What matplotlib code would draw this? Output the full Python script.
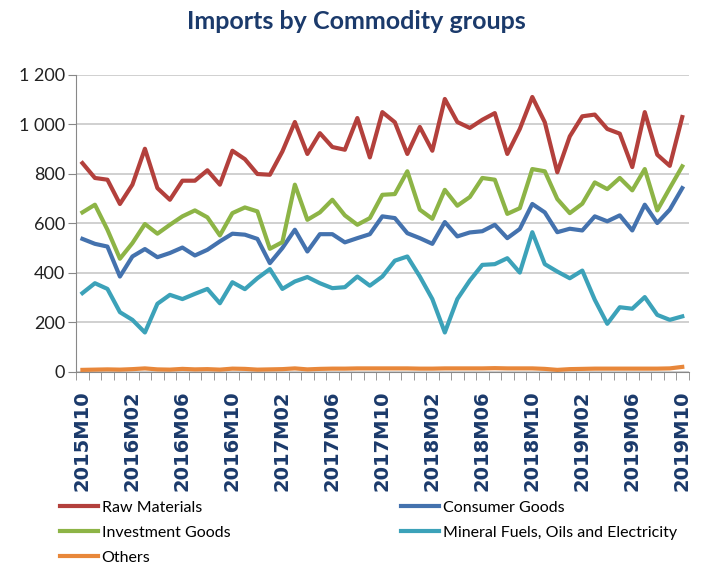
import matplotlib.pyplot as plt
import numpy as np

months = []
for y in range(2015, 2020):
    for m in range(1, 13):
        if (y == 2015 and m < 10) or (y == 2019 and m > 10):
            continue
        months.append(f"{y}M{m:02d}")

raw_materials = [843, 783, 776, 678, 756, 901, 742, 695, 772, 772, 814, 756,
                 893, 859, 799, 796, 890, 1009, 880, 964, 908, 897, 1025, 866,
                 1049, 1008, 880, 989, 893, 1102, 1009, 985, 1018, 1045, 880, 981,
                 1110, 1008, 806, 951, 1032, 1039, 981, 962, 827, 1049, 877, 832, 1029]
consumer_goods = [537, 517, 506, 385, 466, 496, 463, 480, 502, 470, 493, 527,
                  558, 554, 537, 439, 500, 574, 486, 556, 556, 523, 540, 556,
                  628, 621, 560, 540, 517, 605, 547, 563, 568, 594, 540, 577,
                  678, 644, 564, 578, 571, 628, 608, 632, 571, 675, 601, 655, 742]
investment_goods = [644, 675, 574, 457, 520, 597, 558, 594, 628, 652, 624, 551,
                    641, 664, 648, 497, 524, 756, 614, 644, 695, 632, 594, 621,
                    715, 718, 810, 655, 618, 735, 671, 706, 783, 776, 638, 661,
                    819, 810, 698, 641, 679, 765, 738, 783, 733, 819, 652, 742, 830]
mineral_fuels = [318, 358, 335, 241, 210, 159, 275, 311, 294, 315, 335, 277,
                 362, 334, 378, 415, 335, 365, 383, 358, 338, 342, 385, 348,
                 385, 449, 466, 385, 294, 159, 294, 369, 432, 435, 459, 401,
                 564, 435, 405, 378, 409, 291, 194, 261, 255, 302, 230, 210, 224]
others = [8, 9, 10, 9, 11, 14, 10, 9, 12, 10, 11, 9,
          13, 12, 9, 10, 11, 14, 10, 12, 13, 13, 14, 14,
          14, 14, 14, 13, 13, 14, 14, 14, 14, 15, 14, 14,
          14, 12, 8, 11, 12, 13, 13, 13, 13, 13, 13, 14, 20]

series = [
    ("Raw Materials", raw_materials, "#B3403C"),
    ("Consumer Goods", consumer_goods, "#4472AE"),
    ("Investment Goods", investment_goods, "#8DB446"),
    ("Mineral Fuels, Oils and Electricity", mineral_fuels, "#3CA2B9"),
    ("Others", others, "#E8873A"),
]

navy = "#1B3A6B"
narrow = ["Lato", "DejaVu Sans"]

fig = plt.figure(figsize=(7.12, 5.66), dpi=100)
ax = fig.add_axes([0.107, 0.343, 0.860, 0.525])

x = np.arange(len(months))
handles = {}
for name, vals, col in series:
    (ln,) = ax.plot(x, vals, color=col, lw=3.0, label=name)
    handles[name] = ln

ax.set_xlim(-0.5, len(months) - 0.5)
ax.set_ylim(0, 1200)
yt = np.arange(0, 1201, 200)
ax.set_yticks(yt)
ax.set_yticklabels([f"{v:,}".replace(",", " ") for v in yt], fontsize=13,
                   family=narrow, color="#222222")
ax.yaxis.grid(True, color="#C8C8C8", lw=1.2)
ax.set_axisbelow(True)

ax.set_xticks(x[::4])
ax.set_xticklabels(months[::4], rotation=90, fontsize=14, fontweight="bold",
                   color=navy)
ax.set_xticks(np.arange(-0.5, len(months)), minor=True)
ax.tick_params(axis="x", which="major", length=0, pad=13.5)
ax.tick_params(axis="x", which="minor", length=6, color="#888888")
ax.tick_params(axis="y", length=6, color="#888888", pad=2)

for s in ["top", "right"]:
    ax.spines[s].set_visible(False)
for s in ["left", "bottom"]:
    ax.spines[s].set_color("#888888")

fig.text(0.5, 0.962, "Imports by Commodity groups", ha="center", va="center",
         fontsize=18, fontweight="bold", color=navy, family=narrow)

order = ["Raw Materials", "Investment Goods", "Others",
         "Consumer Goods", "Mineral Fuels, Oils and Electricity"]
fig.legend([handles[n] for n in order], order, ncol=2, loc="upper left",
           bbox_to_anchor=(0.0843, 0.116), frameon=False,
           prop={"family": narrow, "size": 11.5}, handlelength=2.4,
           handletextpad=0.2, columnspacing=10.7, labelspacing=0.68,
           borderaxespad=0, borderpad=0)

fig.savefig("out.png", dpi=100)
